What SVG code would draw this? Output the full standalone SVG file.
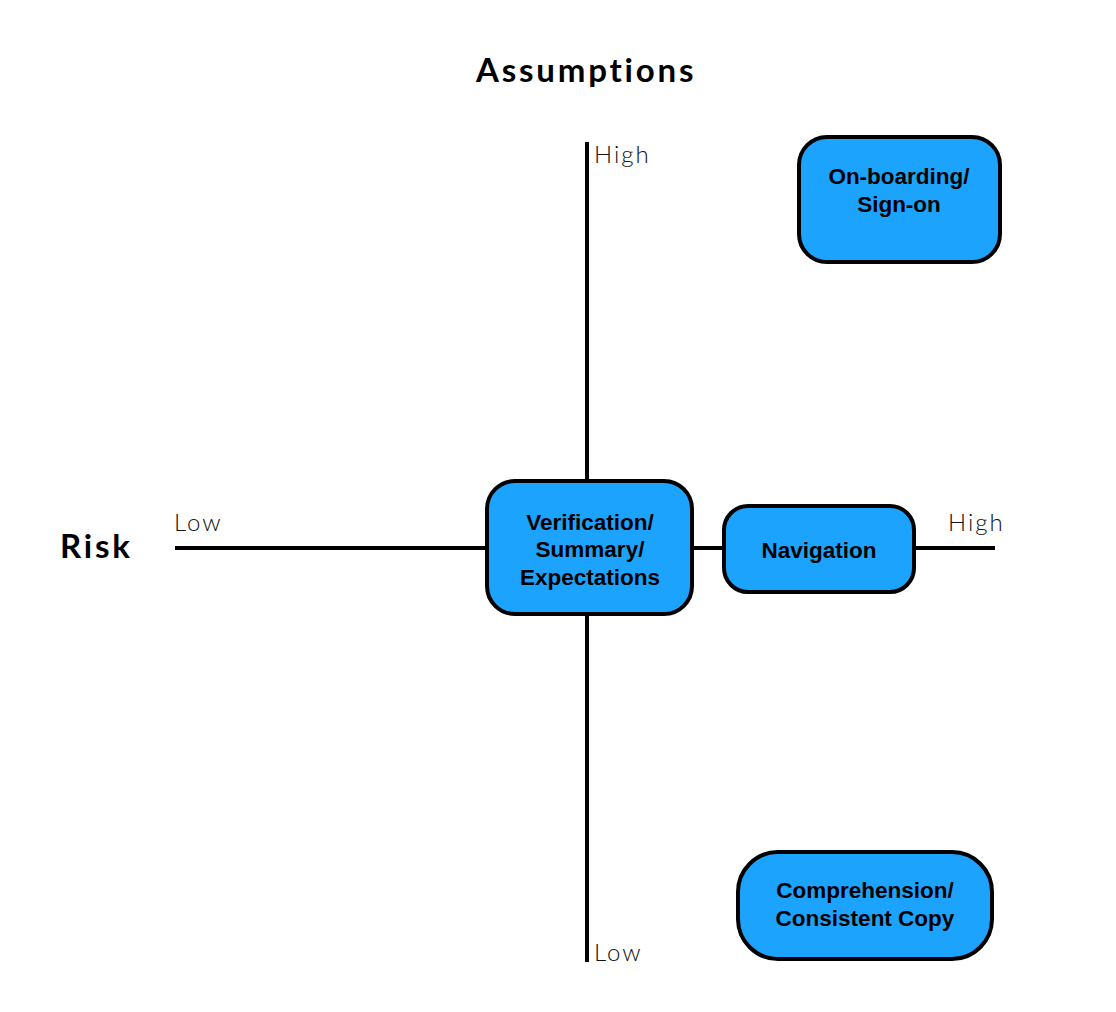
<svg xmlns="http://www.w3.org/2000/svg" width="1116" height="1012" viewBox="0 0 1116 1012">
<style>
.axis{stroke:#000;stroke-width:4;fill:none}
.box{fill:#1CA3FD;stroke:#000;stroke-width:4}
.lbl{font-family:Arial,"Liberation Sans",Helvetica,sans-serif;font-weight:bold;font-size:22.5px;fill:#000;text-anchor:middle}
.title{font-family:Lato,"Open Sans",sans-serif;font-weight:bold;font-size:33px;letter-spacing:2.8px;fill:#000}
.tick{font-family:Lato,"Open Sans",sans-serif;font-weight:300;font-size:24px;letter-spacing:2px;fill:#111}
</style>
<rect width="1116" height="1012" fill="#fff"/>
<g id="connectors">
<line class="axis" x1="587" y1="142" x2="587" y2="962"/>
<line class="axis" x1="175" y1="548" x2="995" y2="548"/>
</g>
<g id="labels">
<text class="title" x="476" y="82">Assumptions</text>
<text class="title" x="60" y="558">Risk</text>
<text class="tick" x="594" y="163">High</text>
<text class="tick" x="594" y="961">Low</text>
<text class="tick" x="174" y="531">Low</text>
<text class="tick" x="948" y="531">High</text>
</g>
<g id="onboarding">
<rect class="box" x="799" y="137" width="201" height="125" rx="28"/>
<text class="lbl" x="899" y="184">On-boarding/</text>
<text class="lbl" x="899" y="212">Sign-on</text>
</g>
<g id="verification">
<rect class="box" x="487" y="481" width="205" height="133" rx="28"/>
<text class="lbl" x="590" y="530">Verification/</text>
<text class="lbl" x="590" y="557">Summary/</text>
<text class="lbl" x="590" y="585">Expectations</text>
</g>
<g id="navigation">
<rect class="box" x="724" y="506" width="190" height="86" rx="24"/>
<text class="lbl" x="819" y="558">Navigation</text>
</g>
<g id="comprehension">
<rect class="box" x="738" y="852" width="254" height="107" rx="40"/>
<text class="lbl" x="865" y="898">Comprehension/</text>
<text class="lbl" x="865" y="926">Consistent Copy</text>
</g>
</svg>
